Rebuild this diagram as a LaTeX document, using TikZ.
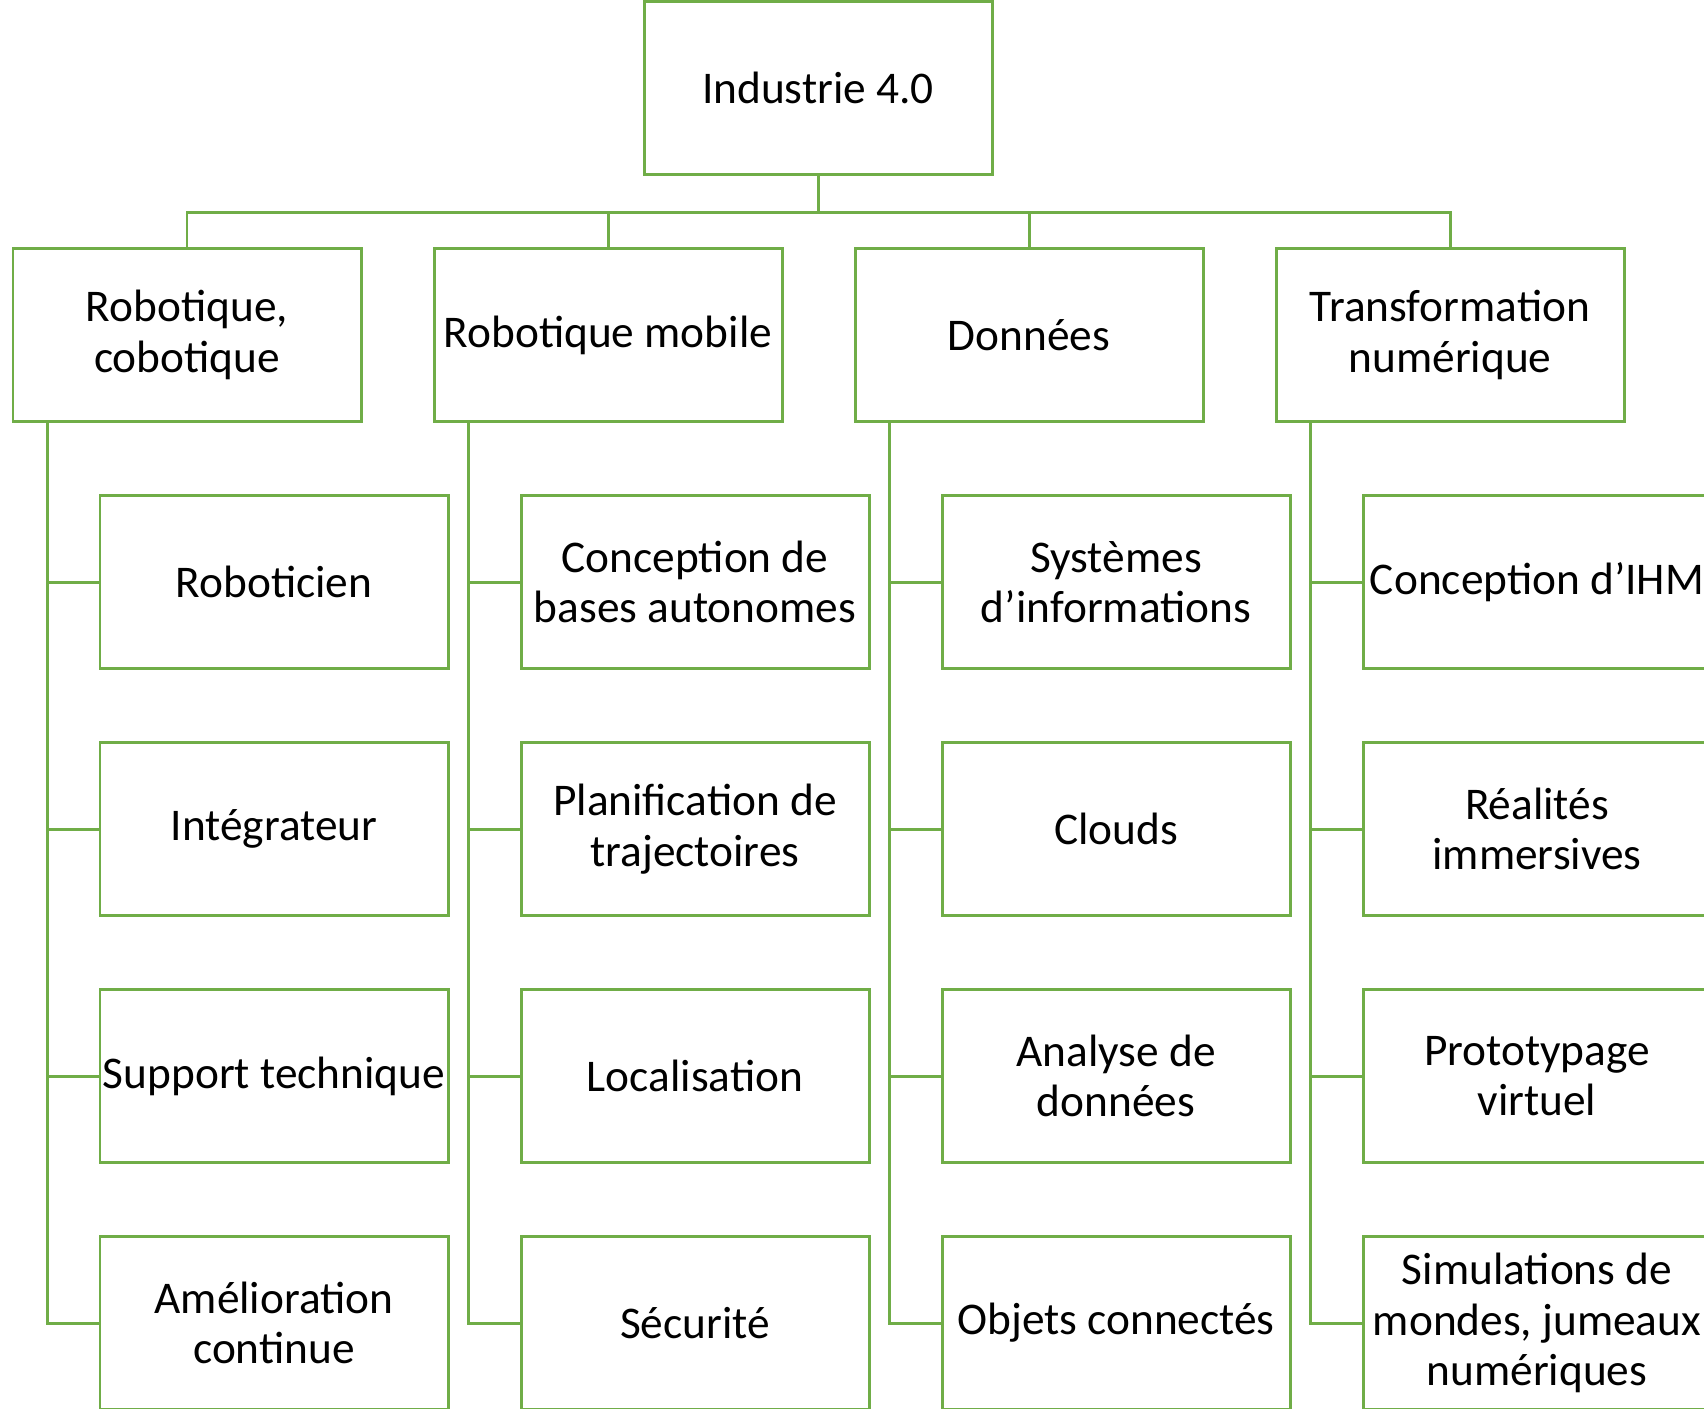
\documentclass[tikz,border=0pt]{standalone}
\usepackage{fontspec}
\setmainfont{Carlito}
\usetikzlibrary{positioning}
\definecolor{boxgreen}{RGB}{112,173,71}

\begin{document}
\begin{tikzpicture}[
    box/.style={draw=boxgreen, line width=0.85pt, minimum width=3.48cm, minimum height=1.73cm,
      inner sep=0.5pt, align=center, font=\fontsize{12.9}{14.4}\selectfont},
    link/.style={draw=boxgreen, line width=0.85pt}]
    \useasboundingbox (0,0) rectangle (17.04,-14.08);
    \clip (0,0) rectangle (17.04,-14.08);

    \node[box] (root) at (8.18,-0.875) {Industrie 4.0};

    \node[box] (rob) at (1.87,-3.35) {Robotique,\\cobotique};
    \node[box] (mob) at (6.08,-3.35) {Robotique mobile};
    \node[box] (don) at (10.29,-3.35) {Données};
    \node[box] (num) at (14.50,-3.35) {Transformation\\numérique};

    \node[box] (rob1) at (2.74,-5.82) {Roboticien};
    \node[box] (rob2) at (2.74,-8.29) {Intégrateur};
    \node[box] (rob3) at (2.74,-10.76) {Support technique};
    \node[box] (rob4) at (2.74,-13.23) {Amélioration\\continue};

    \node[box] (mob1) at (6.95,-5.82) {Conception de\\bases autonomes};
    \node[box] (mob2) at (6.95,-8.29) {Planification de\\trajectoires};
    \node[box] (mob3) at (6.95,-10.76) {Localisation};
    \node[box] (mob4) at (6.95,-13.23) {Sécurité};

    \node[box] (don1) at (11.16,-5.82) {Systèmes\\d’informations};
    \node[box] (don2) at (11.16,-8.29) {Clouds};
    \node[box] (don3) at (11.16,-10.76) {Analyse de\\données};
    \node[box] (don4) at (11.16,-13.23) {Objets connectés};

    \node[box] (num1) at (15.37,-5.82) {Conception d’IHM};
    \node[box] (num2) at (15.37,-8.29) {Réalités\\immersives};
    \node[box] (num3) at (15.37,-10.76) {Prototypage\\virtuel};
    \node[box] (num4) at (15.37,-13.23) {Simulations de\\mondes, jumeaux\\numériques};

    % top level
    \coordinate (bus) at (8.18,-2.12);
    \draw[link] (root.south) -- (bus);
    \foreach \g in {rob,mob,don,num}
        \draw[link] (\g.north) |- (bus);

    % branches
    \foreach \g in {rob,mob,don,num}{
        \coordinate (\g-s) at ([xshift=0.36cm]\g.south west);
        \draw[link] (\g-s) |- (\g4.west);
        \foreach \i in {1,2,3}
            \draw[link] (\g-s |- \g\i.west) -- (\g\i.west);
    }
\end{tikzpicture}
\end{document}
